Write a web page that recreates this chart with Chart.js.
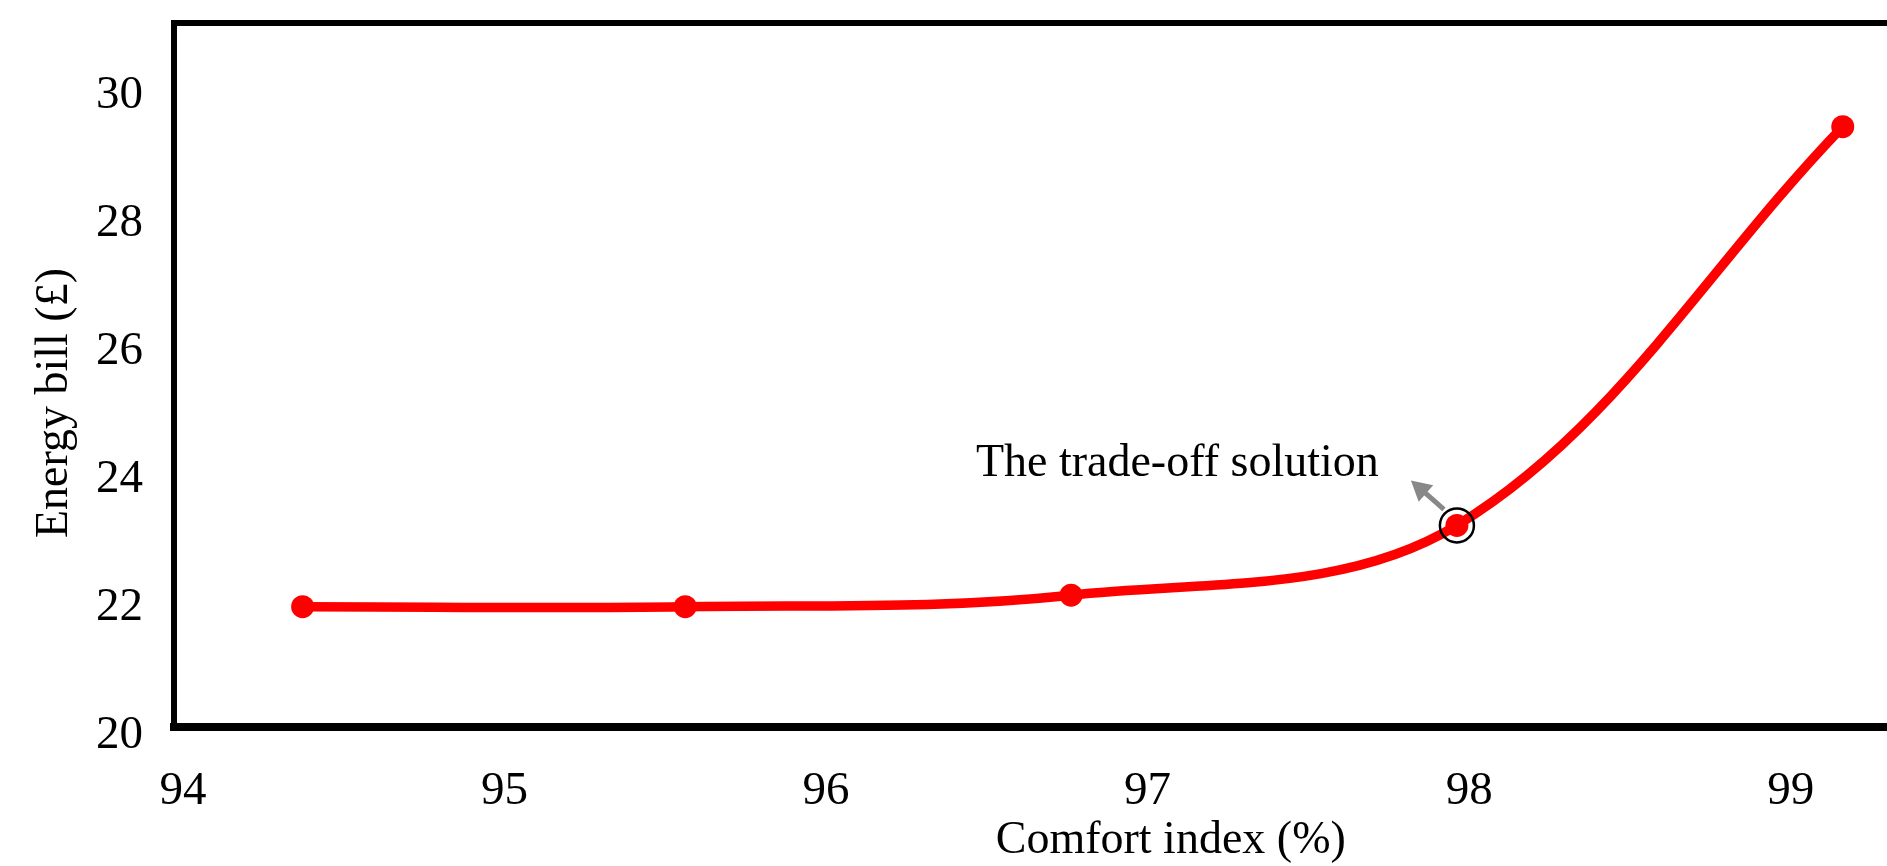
<!DOCTYPE html>
<html>
<head>
<meta charset="utf-8">
<title>Energy bill vs comfort index</title>
<script src="https://cdn.jsdelivr.net/npm/chart.js@4.4.0/dist/chart.umd.min.js"></script>
<style>
    html, body { margin: 0; padding: 0; background: #fff; overflow: hidden; }
    /* the reference is a crop: the plot runs on past the right edge */
    #wrap { position: relative; width: 2187px; height: 866px; }
</style>
</head>
<body>
<div id="wrap"><canvas id="paretoChart"></canvas></div>
<script>
// Pareto front
const comfortIndex = [94.40, 95.59, 96.79, 97.99, 99.19];
const energyBill = [21.88, 21.88, 22.06, 23.15, 29.38];
const xTicks = [94, 95, 96, 97, 98, 99];
const yTicks = [20, 22, 24, 26, 28, 30];
const tradeOffIndex = 3;
const tradeOffLabel = 'The trade-off solution';
const yTitle = 'Energy bill (£)';

const serif = '"Liberation Serif", "Times New Roman", Times, serif';
const red = '#ff0000';

const points = comfortIndex.map((x, i) => ({ x: x, y: energyBill[i] }));

// arrow + caption next to the trade-off point, and the y title
// (the y title sits a bit below the middle of the axis in the original)
const tradeOffNote = {
    id: 'tradeOffNote',
    afterDatasetsDraw(chart) {
        const { ctx, chartArea } = chart;
        ctx.save();
        ctx.fillStyle = '#000';
        ctx.font = '46px ' + serif;
        ctx.textAlign = 'center';
        ctx.textBaseline = 'middle';
        ctx.translate(55, (chartArea.top + chartArea.bottom) / 2 + 28);
        ctx.rotate(-Math.PI / 2);
        ctx.fillText(yTitle, 0, 0);
        ctx.restore();

        const el = chart.getDatasetMeta(1).data[tradeOffIndex];
        if (!el) return;
        const px = el.x, py = el.y;
        const x0 = px - 13, y0 = py - 16;   // tail, just outside the ring
        const x1 = px - 46, y1 = py - 45;   // tip
        const ang = Math.atan2(y1 - y0, x1 - x0);
        const head = 20, half = 11;

        ctx.save();
        ctx.strokeStyle = '#888888';
        ctx.fillStyle = '#888888';
        ctx.lineWidth = 5;
        ctx.beginPath();
        ctx.moveTo(x0, y0);
        ctx.lineTo(x1 - Math.cos(ang) * head * 0.8, y1 - Math.sin(ang) * head * 0.8);
        ctx.stroke();
        const bx = x1 - Math.cos(ang) * head, by = y1 - Math.sin(ang) * head;
        ctx.beginPath();
        ctx.moveTo(x1, y1);
        ctx.lineTo(bx + Math.sin(ang) * half, by - Math.cos(ang) * half);
        ctx.lineTo(bx - Math.sin(ang) * half, by + Math.cos(ang) * half);
        ctx.closePath();
        ctx.fill();

        ctx.fillStyle = '#000';
        ctx.font = '46px ' + serif;
        ctx.textAlign = 'left';
        ctx.textBaseline = 'alphabetic';
        ctx.fillText(tradeOffLabel, px - 481, py - 49);
        ctx.restore();
    }
};

const ctx = document.getElementById('paretoChart').getContext('2d');
new Chart(ctx, {
    type: 'line',
    data: {
        datasets: [
            {
                label: 'Trade-off ring',
                type: 'scatter',
                data: [points[tradeOffIndex]],
                pointRadius: 17,
                pointBorderWidth: 2.5,
                pointBorderColor: '#000',
                pointBackgroundColor: 'rgba(0,0,0,0)',
                order: 0
            },
            {
                label: 'Pareto front',
                data: points,
                borderColor: red,
                backgroundColor: red,
                borderWidth: 9.5,
                tension: 0.35,
                pointRadius: 11.5,
                pointBorderWidth: 0,
                pointBackgroundColor: red,
                fill: false,
                order: 1
            }
        ]
    },
    options: {
        responsive: true,
        maintainAspectRatio: false,
        animation: false,
        layout: { padding: 0 },
        plugins: {
            legend: { display: false },
            tooltip: { enabled: false }
        },
        scales: {
            x: {
                type: 'linear',
                position: 'bottom',
                min: 94,
                max: 100.2,
                afterBuildTicks: s => { s.ticks = xTicks.map(v => ({ value: v })); },
                afterFit: s => {
                    s.height = 139;
                    s.paddingLeft = 0;
                    s.paddingRight = 0;
                },
                grid: { display: false, drawTicks: false },
                border: { display: true, color: '#000', width: 8 },
                ticks: {
                    color: '#000',
                    font: { family: serif, size: 47 },
                    padding: 36,
                    labelOffset: 9,
                    maxRotation: 0,
                    autoSkip: false
                },
                title: {
                    display: true,
                    text: 'Comfort index (%)',
                    color: '#000',
                    font: { family: serif, size: 46 },
                    padding: { top: 0, bottom: -3 }
                }
            },
            xTop: {
                type: 'linear',
                position: 'top',
                min: 94,
                max: 100.2,
                afterFit: s => {
                    s.height = 23;
                    s.paddingLeft = 0;
                    s.paddingRight = 0;
                },
                grid: { display: false, drawTicks: false },
                ticks: { display: false },
                border: { display: true, color: '#000', width: 6 }
            },
            y: {
                type: 'linear',
                min: 20,
                max: 31,
                afterBuildTicks: s => { s.ticks = yTicks.map(v => ({ value: v })); },
                afterFit: s => {
                    s.width = 174;
                    s.paddingTop = 0;
                    s.paddingBottom = 0;
                },
                grid: { display: false, drawTicks: false },
                border: { display: true, color: '#000', width: 6 },
                ticks: {
                    color: '#000',
                    font: { family: serif, size: 47 },
                    padding: 31,
                    labelOffset: 9,
                    autoSkip: false
                },
                title: { display: false }
            }
        }
    },
    plugins: [tradeOffNote]
});
</script>
</body>
</html>
